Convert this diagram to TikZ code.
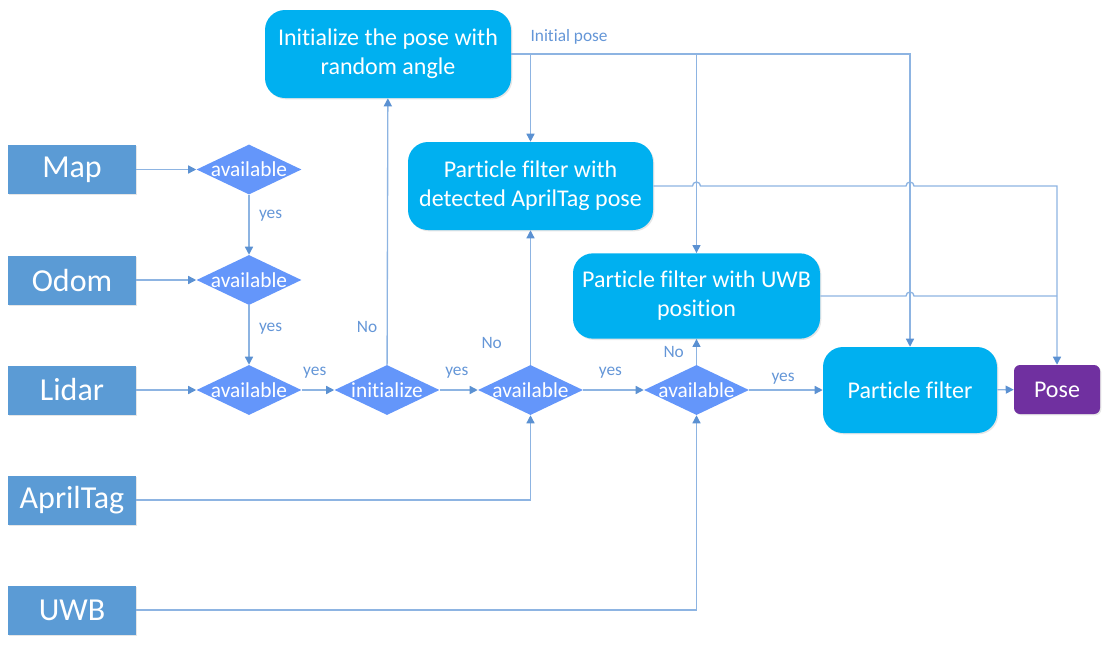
\documentclass[tikz,border=0pt]{standalone}
\usepackage{fontspec}
\setmainfont{Carlito}[Ligatures={NoCommon}]
\usepackage{xcolor}
\definecolor{colorSensor}{RGB}{91,155,213}
\definecolor{colorCheck}{RGB}{100,150,250}
\definecolor{colorFilter}{RGB}{0,176,240}
\definecolor{colorPose}{RGB}{112,48,160}
\definecolor{colorLine}{RGB}{141,180,226}
\definecolor{colorTip}{RGB}{91,145,210}
\definecolor{colorLabel}{RGB}{100,150,215}
\usetikzlibrary{arrows.meta, shapes.geometric, positioning, shadows}
\newcommand{\chktext}[1]{\makebox[0pt]{#1}}
\tikzset{
  sensor/.style={rectangle, fill=colorSensor, text=white, minimum width=96pt, minimum height=36.75pt,
    font=\fontsize{24}{28}\selectfont, drop shadow={opacity=0.2, shadow xshift=1pt, shadow yshift=-1pt}},
  check/.style={diamond, fill=colorCheck, text=white, inner sep=0pt, minimum width=78.75pt, minimum height=37.5pt,
    font=\fontsize{16}{18}\selectfont},
  filter/.style={rectangle, rounded corners=15pt, fill=colorFilter, text=white, align=center,
    font=\fontsize{18}{21.75}\selectfont, drop shadow={opacity=0.2, shadow xshift=1pt, shadow yshift=-1pt}},
  result/.style={rectangle, rounded corners=4.5pt, fill=colorPose, text=white, minimum width=64.5pt, minimum height=36.75pt,
    font=\fontsize{18}{21}\selectfont, drop shadow={opacity=0.2, shadow xshift=1pt, shadow yshift=-1pt}},
  lbl/.style={text=colorLabel, inner sep=1pt, font=\fontsize{13}{15}\selectfont},
  wire/.style={draw=colorLine, line width=1pt},
  flow/.style={wire, -{Triangle[length=6pt, width=6pt, color=colorTip]}}
}

\begin{document}
\begin{tikzpicture}[x=0.75pt, y=-0.75pt]
\useasboundingbox (0,0) rectangle (1110,650);
\node[sensor] (map) at (72,169.5) {Map};
\node[sensor] (odom) at (72,280) {Odom};
\node[sensor] (lidar) at (72,390) {Lidar};
\node[sensor] (april) at (72,500) {AprilTag};
\node[sensor] (uwb) at (72,610) {UWB};
\node[check] (chkmap) at (249,169.5) {\chktext{available}};
\node[check] (chkodom) at (249,280) {\chktext{available}};
\node[check] (chklidar) at (249,390) {\chktext{available}};
\node[check] (chkinit) at (387,390) {\chktext{initialize}};
\node[check] (chkapril) at (530.5,390) {\chktext{available}};
\node[check] (chkuwb) at (696.5,390) {\chktext{available}};
\node[filter, minimum width=184.5pt, minimum height=66pt] (init) at (388,54) {Initialize the pose with\\random angle};
\node[filter, minimum width=183.75pt, minimum height=66pt] (pfapril) at (530.5,186) {Particle filter with\\detected AprilTag pose};
\node[filter, minimum width=185.25pt, minimum height=64pt] (pfuwb) at (696.5,296) {Particle filter with UWB\\position};
\node[filter, minimum width=130.5pt, minimum height=64.5pt] (pf) at (910,390) {Particle filter};
\node[result] (pose) at (1057,389.5) {Pose};
\coordinate (bus) at (910,54);

\draw[flow] (map) -- (chkmap);
\draw[flow] (odom) -- (chkodom);
\draw[flow] (lidar) -- (chklidar);
\draw[flow] (april) -| (chkapril);
\draw[flow] (uwb) -| (chkuwb);
\draw[flow] (chkmap) -- node[lbl, pos=0.35, right=6pt] {yes} (chkodom);
\draw[flow] (chkodom) -- node[lbl, pos=0.39, right=6pt] {yes} (chklidar);
\draw[flow] (chklidar) -- node[lbl, pos=0.4, above=7pt] {yes} (chkinit);
\draw[flow] (chkinit) -- node[lbl, pos=0.45, above=7pt] {yes} (chkapril);
\draw[flow] (chkapril) -- node[lbl, pos=0.45, above=7pt] {yes} (chkuwb);
\draw[flow] (chkuwb) -- node[lbl, pos=0.46, above=3pt] {yes} (pf);
\draw[flow] (chkinit) -- node[lbl, pos=0.14, left=6pt] {No} (init);
\draw[flow] (chkapril) -- node[lbl, pos=0.16, left=20pt] {No} (pfapril);
\draw[flow] (chkuwb) -- node[lbl, pos=0.5, left=8pt] {No} (pfuwb);
\draw[flow] (pf) -- (pose);

\draw[flow] (init.east) -- node[lbl, pos=0.145, above=6pt] {Initial pose} (bus) -- (pf.north);
\draw[flow] (pfapril.north |- bus) -- (pfapril.north);
\draw[flow] (pfuwb.north |- bus) -- (pfuwb.north);
\draw[flow] (pfapril.east) -- ([xshift=-3pt]pfuwb.north |- pfapril.east) arc[start angle=180, end angle=0, radius=3pt]
  -- ([xshift=-3pt]pf.north |- pfapril.east) arc[start angle=180, end angle=0, radius=3pt]
  -- (pfapril.east -| pose.north) -- (pose.north);
\draw[wire] (pfuwb.east) -- ([xshift=-3pt]pf.north |- pfuwb.east) arc[start angle=180, end angle=0, radius=3pt]
  -- (pfuwb.east -| pose.north);
\end{tikzpicture}
\end{document}
